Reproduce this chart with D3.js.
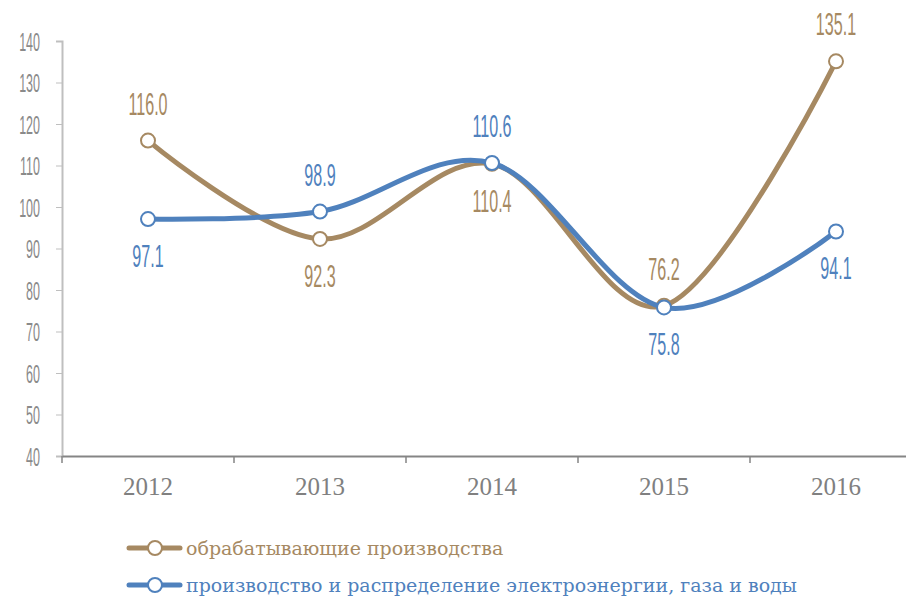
<!DOCTYPE html>
<html>
<head>
<meta charset="utf-8">
<script src="https://cdn.jsdelivr.net/npm/d3@7"></script>
<style>
  body { margin: 0; background: #fff; }
  svg { display: block; }
</style>
</head>
<body>
<div class="curr-graff"></div>
<script>
const years = ["2012", "2013", "2014", "2015", "2016"];
const manufacturing = [116.0, 92.3, 110.4, 76.2, 135.1];
const utilities = [97.1, 98.9, 110.6, 75.8, 94.1];
const yTicks = [40, 50, 60, 70, 80, 90, 100, 110, 120, 130, 140];
// label placement: -1 above the point, 1 below
const manufPos = [-1, 1, 1, -1, -1];
const utilPos = [1, -1, -1, 1, 1];
const seriesNames = ["обрабатывающие производства", "производство и распределение электроэнергии, газа и воды"];

const width = 906, height = 596;
const brown = "#a68962", blue = "#4f81bd";
const narrowFont = "'Liberation Sans Narrow', 'Liberation Sans', sans-serif";
const serifFont = "'Liberation Serif', 'DejaVu Serif', 'Times New Roman', serif";
const legendFont = "'DejaVu Serif', serif";

const svg = d3.select(".curr-graff")
    .append("svg")
    .attr("width", width)
    .attr("height", height);

const xScale = d3.scaleBand()
    .domain(years)
    .range([62, 922]);

const yScale = d3.scaleLinear()
    .domain([40, 140])
    .range([456, 41]);

const cx = d => xScale(d) + xScale.bandwidth() / 2;

// y axis
const yAxis = svg.append("g")
    .attr("transform", "translate(62,0)")
    .call(d3.axisLeft(yScale).tickValues(yTicks).tickSize(6).tickFormat(d3.format("d")));
yAxis.select(".domain").attr("stroke", "#bfbfbf").attr("stroke-width", 2);
yAxis.selectAll(".tick line").attr("stroke", "#bfbfbf");
yAxis.selectAll(".tick text").remove();
yAxis.selectAll(".tick").append("text")
    .attr("transform", "translate(-22,9) scale(0.5,1)")
    .attr("text-anchor", "end")
    .attr("fill", "#8a8a8a")
    .style("font-family", narrowFont)
    .style("font-size", "25px")
    .text(d => d);

// x axis
const xAxis = svg.append("g")
    .attr("transform", "translate(0,456)")
    .call(d3.axisBottom(xScale).tickSize(0).tickPadding(0));
xAxis.select(".domain").attr("stroke", "#858585").attr("stroke-width", 2);
xAxis.selectAll(".tick text")
    .attr("y", 39)
    .attr("dy", 0)
    .attr("fill", "#808080")
    .style("font-family", serifFont)
    .style("font-size", "25px");
svg.append("g").selectAll("line")
    .data(d3.range(years.length + 1))
    .enter()
    .append("line")
    .attr("x1", i => 62 + i * xScale.bandwidth())
    .attr("x2", i => 62 + i * xScale.bandwidth())
    .attr("y1", 456)
    .attr("y2", 463)
    .attr("stroke", "#858585")
    .attr("stroke-width", 1.5);

const line = d3.line()
    .x((d, i) => cx(years[i]))
    .y(d => yScale(d))
    .curve(d3.curveCardinal.tension(0));

function drawSeries(values, color) {
    svg.append("path")
        .datum(values)
        .attr("fill", "none")
        .attr("stroke", color)
        .attr("stroke-width", 5)
        .attr("stroke-linecap", "round")
        .attr("d", line);

    svg.append("g").selectAll("circle")
        .data(values)
        .enter()
        .append("circle")
        .attr("cx", (d, i) => cx(years[i]))
        .attr("cy", d => yScale(d))
        .attr("r", 7)
        .attr("fill", "#fff")
        .attr("stroke", color)
        .attr("stroke-width", 2);
}

function drawLabels(values, color, pos) {
    svg.append("g").selectAll("text")
        .data(values)
        .enter()
        .append("text")
        .attr("transform", (d, i) => "translate(" + cx(years[i]) + "," + (yScale(d) + pos[i] * 37 + 11) + ") scale(0.52,1)")
        .attr("text-anchor", "middle")
        .attr("fill", color)
        .style("font-family", narrowFont)
        .style("font-size", "31px")
        .text(d => d.toFixed(1));
}

drawSeries(manufacturing, brown);
drawSeries(utilities, blue);
drawLabels(manufacturing, brown, manufPos);
drawLabels(utilities, blue, utilPos);

// legend
const legend = svg.append("g");
[brown, blue].forEach((color, i) => {
    const ly = 548 + i * 37;
    legend.append("line")
        .attr("x1", 129).attr("x2", 180)
        .attr("y1", ly).attr("y2", ly)
        .attr("stroke", color)
        .attr("stroke-width", 5)
        .attr("stroke-linecap", "round");
    legend.append("circle")
        .attr("cx", 155).attr("cy", ly)
        .attr("r", 7)
        .attr("fill", "#fff")
        .attr("stroke", color)
        .attr("stroke-width", 2);
    legend.append("text")
        .attr("x", 186)
        .attr("y", ly + 7)
        .attr("fill", color)
        .style("font-family", legendFont)
        .style("font-size", "19px")
        .text(seriesNames[i]);
});
</script>
</body>
</html>
